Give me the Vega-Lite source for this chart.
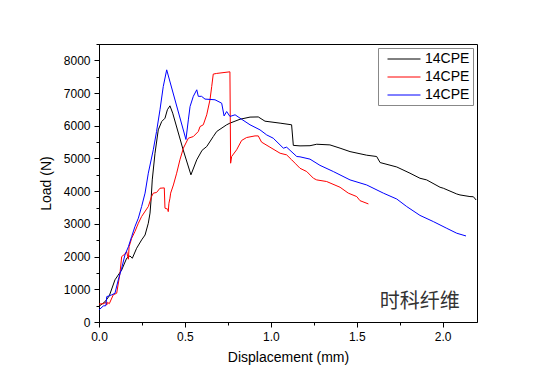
{
  "$schema": "https://vega.github.io/schema/vega-lite/v6.json",
  "width": 378,
  "height": 278,
  "autosize": "none",
  "padding": {"left": 99, "top": 44, "right": 77, "bottom": 64},
  "background": "white",
  "config": {
    "font": "Liberation Sans",
    "view": {"stroke": "#000000", "strokeWidth": 1},
    "axis": {"grid": false, "domainColor": "#000000", "tickColor": "#000000", "labelColor": "#000000", "titleColor": "#000000", "labelFontSize": 12, "titleFontSize": 14, "titleFontWeight": "normal", "labelFont": "Liberation Sans", "titleFont": "Liberation Sans", "labelOverlap": false}
  },
  "resolve": {"axis": {"y": "independent"}},
  "datasets": {
    "curves": [
      {"s":"A","i":0,"x":0.0,"y":480},{"s":"A","i":1,"x":0.02,"y":560},{"s":"A","i":2,"x":0.035,"y":620},{"s":"A","i":3,"x":0.06,"y":800},{"s":"A","i":4,"x":0.093,"y":1290},{"s":"A","i":5,"x":0.132,"y":1590},{"s":"A","i":6,"x":0.161,"y":1950},{"s":"A","i":7,"x":0.18,"y":2020},{"s":"A","i":8,"x":0.194,"y":1950},{"s":"A","i":9,"x":0.219,"y":2255},{"s":"A","i":10,"x":0.248,"y":2510},{"s":"A","i":11,"x":0.268,"y":2660},{"s":"A","i":12,"x":0.287,"y":3020},{"s":"A","i":13,"x":0.297,"y":3330},{"s":"A","i":14,"x":0.303,"y":3730},{"s":"A","i":15,"x":0.31,"y":4345},{"s":"A","i":16,"x":0.326,"y":5160},{"s":"A","i":17,"x":0.345,"y":5875},{"s":"A","i":18,"x":0.365,"y":6130},{"s":"A","i":19,"x":0.384,"y":6230},{"s":"A","i":20,"x":0.398,"y":6490},{"s":"A","i":21,"x":0.413,"y":6610},{"s":"A","i":22,"x":0.429,"y":6385},{"s":"A","i":23,"x":0.49,"y":5260},{"s":"A","i":24,"x":0.535,"y":4500},{"s":"A","i":25,"x":0.569,"y":4960},{"s":"A","i":26,"x":0.6,"y":5250},{"s":"A","i":27,"x":0.627,"y":5365},{"s":"A","i":28,"x":0.665,"y":5670},{"s":"A","i":29,"x":0.685,"y":5825},{"s":"A","i":30,"x":0.743,"y":6030},{"s":"A","i":31,"x":0.762,"y":6080},{"s":"A","i":32,"x":0.821,"y":6200},{"s":"A","i":33,"x":0.879,"y":6265},{"s":"A","i":34,"x":0.927,"y":6270},{"s":"A","i":35,"x":0.966,"y":6140},{"s":"A","i":36,"x":1.054,"y":6080},{"s":"A","i":37,"x":1.121,"y":6030},{"s":"A","i":38,"x":1.131,"y":5400},{"s":"A","i":39,"x":1.17,"y":5385},{"s":"A","i":40,"x":1.228,"y":5390},{"s":"A","i":41,"x":1.267,"y":5435},{"s":"A","i":42,"x":1.344,"y":5415},{"s":"A","i":43,"x":1.403,"y":5315},{"s":"A","i":44,"x":1.461,"y":5210},{"s":"A","i":45,"x":1.558,"y":5100},{"s":"A","i":46,"x":1.616,"y":5060},{"s":"A","i":47,"x":1.636,"y":4875},{"s":"A","i":48,"x":1.733,"y":4740},{"s":"A","i":49,"x":1.81,"y":4550},{"s":"A","i":50,"x":1.868,"y":4395},{"s":"A","i":51,"x":1.907,"y":4345},{"s":"A","i":52,"x":1.985,"y":4120},{"s":"A","i":53,"x":2.004,"y":4090},{"s":"A","i":54,"x":2.082,"y":3915},{"s":"A","i":55,"x":2.101,"y":3885},{"s":"A","i":56,"x":2.159,"y":3835},{"s":"A","i":57,"x":2.179,"y":3830},{"s":"A","i":58,"x":2.195,"y":3730},
      {"s":"B","i":0,"x":0.0,"y":550},{"s":"B","i":1,"x":0.03,"y":560},{"s":"B","i":2,"x":0.04,"y":620},{"s":"B","i":3,"x":0.045,"y":520},{"s":"B","i":4,"x":0.05,"y":600},{"s":"B","i":5,"x":0.06,"y":560},{"s":"B","i":6,"x":0.083,"y":830},{"s":"B","i":7,"x":0.103,"y":880},{"s":"B","i":8,"x":0.122,"y":1490},{"s":"B","i":9,"x":0.132,"y":2000},{"s":"B","i":10,"x":0.151,"y":2080},{"s":"B","i":11,"x":0.161,"y":2150},{"s":"B","i":12,"x":0.171,"y":1920},{"s":"B","i":13,"x":0.175,"y":2300},{"s":"B","i":14,"x":0.19,"y":2560},{"s":"B","i":15,"x":0.209,"y":2765},{"s":"B","i":16,"x":0.229,"y":3020},{"s":"B","i":17,"x":0.248,"y":3225},{"s":"B","i":18,"x":0.287,"y":3530},{"s":"B","i":19,"x":0.306,"y":3835},{"s":"B","i":20,"x":0.316,"y":3940},{"s":"B","i":21,"x":0.335,"y":3960},{"s":"B","i":22,"x":0.355,"y":4090},{"s":"B","i":23,"x":0.38,"y":4100},{"s":"B","i":24,"x":0.384,"y":3480},{"s":"B","i":25,"x":0.4,"y":3450},{"s":"B","i":26,"x":0.403,"y":3375},{"s":"B","i":27,"x":0.407,"y":3630},{"s":"B","i":28,"x":0.413,"y":3785},{"s":"B","i":29,"x":0.417,"y":3940},{"s":"B","i":30,"x":0.433,"y":4190},{"s":"B","i":31,"x":0.452,"y":4550},{"s":"B","i":32,"x":0.471,"y":4960},{"s":"B","i":33,"x":0.491,"y":5315},{"s":"B","i":34,"x":0.52,"y":5620},{"s":"B","i":35,"x":0.549,"y":5670},{"s":"B","i":36,"x":0.578,"y":5825},{"s":"B","i":37,"x":0.588,"y":5975},{"s":"B","i":38,"x":0.607,"y":6030},{"s":"B","i":39,"x":0.627,"y":6335},{"s":"B","i":40,"x":0.646,"y":6795},{"s":"B","i":41,"x":0.656,"y":7200},{"s":"B","i":42,"x":0.665,"y":7580},{"s":"B","i":43,"x":0.685,"y":7600},{"s":"B","i":44,"x":0.762,"y":7650},{"s":"B","i":45,"x":0.766,"y":4855},{"s":"B","i":46,"x":0.772,"y":5060},{"s":"B","i":47,"x":0.801,"y":5265},{"s":"B","i":48,"x":0.83,"y":5550},{"s":"B","i":49,"x":0.859,"y":5640},{"s":"B","i":50,"x":0.908,"y":5690},{"s":"B","i":51,"x":0.927,"y":5690},{"s":"B","i":52,"x":0.946,"y":5500},{"s":"B","i":53,"x":0.995,"y":5345},{"s":"B","i":54,"x":1.054,"y":5160},{"s":"B","i":55,"x":1.092,"y":5110},{"s":"B","i":56,"x":1.121,"y":4960},{"s":"B","i":57,"x":1.141,"y":4855},{"s":"B","i":58,"x":1.17,"y":4700},{"s":"B","i":59,"x":1.209,"y":4600},{"s":"B","i":60,"x":1.248,"y":4395},{"s":"B","i":61,"x":1.267,"y":4345},{"s":"B","i":62,"x":1.325,"y":4295},{"s":"B","i":63,"x":1.403,"y":4120},{"s":"B","i":64,"x":1.451,"y":3940},{"s":"B","i":65,"x":1.5,"y":3835},{"s":"B","i":66,"x":1.519,"y":3710},{"s":"B","i":67,"x":1.568,"y":3610},
      {"s":"C","i":0,"x":0.0,"y":370},{"s":"C","i":1,"x":0.025,"y":490},{"s":"C","i":2,"x":0.04,"y":500},{"s":"C","i":3,"x":0.045,"y":775},{"s":"C","i":4,"x":0.074,"y":830},{"s":"C","i":5,"x":0.093,"y":880},{"s":"C","i":6,"x":0.112,"y":1285},{"s":"C","i":7,"x":0.132,"y":1645},{"s":"C","i":8,"x":0.151,"y":2050},{"s":"C","i":9,"x":0.171,"y":2300},{"s":"C","i":10,"x":0.19,"y":2610},{"s":"C","i":11,"x":0.209,"y":2915},{"s":"C","i":12,"x":0.229,"y":3175},{"s":"C","i":13,"x":0.248,"y":3530},{"s":"C","i":14,"x":0.268,"y":3940},{"s":"C","i":15,"x":0.287,"y":4550},{"s":"C","i":16,"x":0.316,"y":5265},{"s":"C","i":17,"x":0.335,"y":5825},{"s":"C","i":18,"x":0.355,"y":6490},{"s":"C","i":19,"x":0.374,"y":7200},{"s":"C","i":20,"x":0.394,"y":7710},{"s":"C","i":21,"x":0.506,"y":5580},{"s":"C","i":22,"x":0.52,"y":6180},{"s":"C","i":23,"x":0.53,"y":6590},{"s":"C","i":24,"x":0.549,"y":6900},{"s":"C","i":25,"x":0.569,"y":7100},{"s":"C","i":26,"x":0.578,"y":6900},{"s":"C","i":27,"x":0.597,"y":6900},{"s":"C","i":28,"x":0.617,"y":6815},{"s":"C","i":29,"x":0.675,"y":6795},{"s":"C","i":30,"x":0.714,"y":6690},{"s":"C","i":31,"x":0.728,"y":6300},{"s":"C","i":32,"x":0.743,"y":6435},{"s":"C","i":33,"x":0.762,"y":6285},{"s":"C","i":34,"x":0.792,"y":6335},{"s":"C","i":35,"x":0.83,"y":6200},{"s":"C","i":36,"x":0.879,"y":6030},{"s":"C","i":37,"x":0.937,"y":5875},{"s":"C","i":38,"x":0.976,"y":5720},{"s":"C","i":39,"x":1.014,"y":5620},{"s":"C","i":40,"x":1.073,"y":5315},{"s":"C","i":41,"x":1.092,"y":5345},{"s":"C","i":42,"x":1.151,"y":5060},{"s":"C","i":43,"x":1.17,"y":5050},{"s":"C","i":44,"x":1.228,"y":4980},{"s":"C","i":45,"x":1.286,"y":4790},{"s":"C","i":46,"x":1.364,"y":4600},{"s":"C","i":47,"x":1.461,"y":4345},{"s":"C","i":48,"x":1.558,"y":4190},{"s":"C","i":49,"x":1.655,"y":3940},{"s":"C","i":50,"x":1.733,"y":3760},{"s":"C","i":51,"x":1.791,"y":3530},{"s":"C","i":52,"x":1.868,"y":3260},{"s":"C","i":53,"x":1.946,"y":3070},{"s":"C","i":54,"x":2.024,"y":2865},{"s":"C","i":55,"x":2.082,"y":2715},{"s":"C","i":56,"x":2.136,"y":2630}
    ],
    "note": [{"label": "时科纤维", "x": 2.1, "y": 620}]
  },
  "layer": [
    {
      "data": {"name": "curves"},
      "mark": {"type": "line", "strokeWidth": 1, "clip": true},
      "encoding": {
        "x": {"field": "x", "type": "quantitative", "title": "Displacement (mm)",
          "scale": {"domain": [0, 2.2], "nice": false, "zero": false},
          "axis": {"values": [0, 0.25, 0.5, 0.75, 1.0, 1.25, 1.5, 1.75, 2.0], "format": ".1f",
            "labelExpr": "datum.value % 0.5 === 0 ? datum.label : ''",
            "tickSize": {"condition": {"test": "datum.value % 0.5 === 0", "value": 5}, "value": 3},
            "labelPadding": 4, "titlePadding": 8, "labelFlush": false, "labelOverlap": false}},
        "y": {"field": "y", "type": "quantitative", "title": "Load (N)",
          "scale": {"domain": [0, 8500], "nice": false},
          "axis": {"values": [0, 1000, 2000, 3000, 4000, 5000, 6000, 7000, 8000],
            "format": "d", "tickSize": 5,
            "labelPadding": 4, "titlePadding": 10, "labelFlush": false, "labelOverlap": false}},
        "color": {"field": "s", "type": "nominal",
          "scale": {"domain": ["A", "B", "C"], "range": ["#000000", "#ff0000", "#0000ff"]},
          "legend": {"title": null, "orient": "top-right", "offset": 4, "strokeColor": "#888888", "padding": 3,
            "symbolType": "M-2.2,0H2.2", "symbolSize": 225, "symbolStrokeWidth": 1, "symbolOffset": 15,
            "labelFontSize": 14, "labelFont": "Liberation Sans", "labelColor": "#000000", "labelOffset": 13, "rowPadding": 3,
            "labelExpr": "'14CPE'"}},
        "order": {"field": "i", "type": "quantitative"}
      }
    },
    {
      "data": {"name": "note"},
      "mark": {"type": "text", "align": "right", "baseline": "middle", "font": "Noto Sans CJK SC", "fontSize": 20, "color": "#333333"},
      "encoding": {
        "x": {"field": "x", "type": "quantitative"},
        "y": {"field": "y", "type": "quantitative",
          "scale": {"domain": [0, 8500], "nice": false},
          "axis": {"orient": "left", "values": [500, 1500, 2500, 3500, 4500, 5500, 6500, 7500, 8500], "tickSize": 3, "labels": false, "domain": false, "title": null}},
        "text": {"field": "label"}
      }
    }
  ]
}
